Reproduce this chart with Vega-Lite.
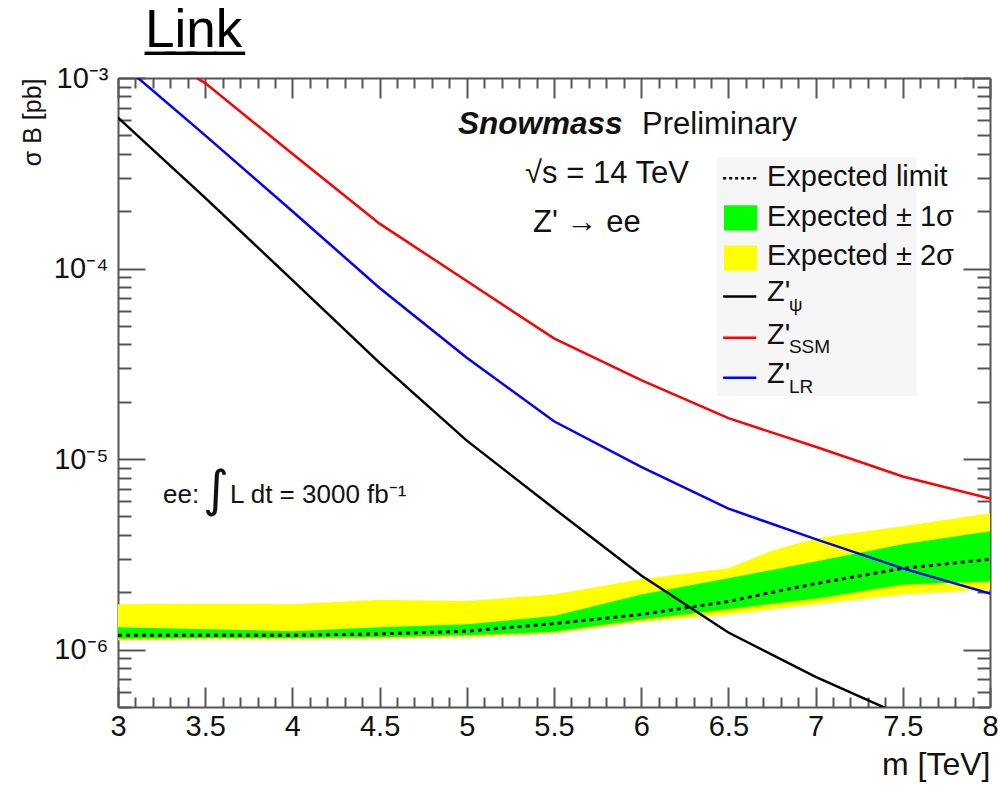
{
  "$schema": "https://vega.github.io/schema/vega-lite/v6.json",
  "width": 872,
  "height": 629,
  "autosize": {"type": "none"},
  "padding": {"left": 118, "top": 78, "right": 8, "bottom": 80},
  "background": "white",
  "config": {"view": {"stroke": null}, "font": "Liberation Sans"},
  "title": {"text": "L̲i̲n̲k̲", "font": "Liberation Sans", "fontSize": 53, "fontWeight": "normal", "color": "#000", "anchor": "start", "frame": "group", "dx": 27, "dy": 66, "offset": 30, "baseline": "alphabetic"},
  "datasets": {
    "bands": [
      {"m": 3.0, "exp": 1.19e-6, "g_lo": 1.14e-6, "g_hi": 1.31e-6, "y_lo": 1.12e-6, "y_hi": 1.73e-6},
      {"m": 3.5, "exp": 1.19e-6, "g_lo": 1.15e-6, "g_hi": 1.28e-6, "y_lo": 1.13e-6, "y_hi": 1.74e-6},
      {"m": 4.0, "exp": 1.19e-6, "g_lo": 1.15e-6, "g_hi": 1.25e-6, "y_lo": 1.13e-6, "y_hi": 1.73e-6},
      {"m": 4.5, "exp": 1.21e-6, "g_lo": 1.16e-6, "g_hi": 1.31e-6, "y_lo": 1.14e-6, "y_hi": 1.83e-6},
      {"m": 5.0, "exp": 1.25e-6, "g_lo": 1.19e-6, "g_hi": 1.36e-6, "y_lo": 1.16e-6, "y_hi": 1.80e-6},
      {"m": 5.5, "exp": 1.37e-6, "g_lo": 1.24e-6, "g_hi": 1.50e-6, "y_lo": 1.22e-6, "y_hi": 1.95e-6},
      {"m": 6.0, "exp": 1.53e-6, "g_lo": 1.44e-6, "g_hi": 1.95e-6, "y_lo": 1.40e-6, "y_hi": 2.34e-6},
      {"m": 6.5, "exp": 1.79e-6, "g_lo": 1.63e-6, "g_hi": 2.37e-6, "y_lo": 1.53e-6, "y_hi": 2.67e-6},
      {"m": 6.75, "exp": 2.0e-6, "g_lo": 1.74e-6, "g_hi": 2.62e-6, "y_lo": 1.63e-6, "y_hi": 3.3e-6},
      {"m": 7.0, "exp": 2.22e-6, "g_lo": 1.85e-6, "g_hi": 2.90e-6, "y_lo": 1.73e-6, "y_hi": 3.84e-6},
      {"m": 7.5, "exp": 2.67e-6, "g_lo": 2.20e-6, "g_hi": 3.57e-6, "y_lo": 1.95e-6, "y_hi": 4.44e-6},
      {"m": 8.0, "exp": 2.98e-6, "g_lo": 2.28e-6, "g_hi": 4.18e-6, "y_lo": 2.07e-6, "y_hi": 5.20e-6}
    ],
    "curves": [
      {"m": 3.0, "s": 6.2e-4, "model": "psi"},
      {"m": 3.5, "s": 2.35e-4, "model": "psi"},
      {"m": 4.0, "s": 8.7e-5, "model": "psi"},
      {"m": 4.5, "s": 3.2e-5, "model": "psi"},
      {"m": 5.0, "s": 1.25e-5, "model": "psi"},
      {"m": 5.5, "s": 5.5e-6, "model": "psi"},
      {"m": 6.0, "s": 2.45e-6, "model": "psi"},
      {"m": 6.5, "s": 1.23e-6, "model": "psi"},
      {"m": 7.0, "s": 7.2e-7, "model": "psi"},
      {"m": 7.5, "s": 4.5e-7, "model": "psi"},
      {"m": 3.4, "s": 1.07e-3, "model": "ssm"},
      {"m": 3.5, "s": 9.4e-4, "model": "ssm"},
      {"m": 4.0, "s": 4.0e-4, "model": "ssm"},
      {"m": 4.5, "s": 1.72e-4, "model": "ssm"},
      {"m": 5.0, "s": 8.6e-5, "model": "ssm"},
      {"m": 5.5, "s": 4.3e-5, "model": "ssm"},
      {"m": 6.0, "s": 2.6e-5, "model": "ssm"},
      {"m": 6.5, "s": 1.64e-5, "model": "ssm"},
      {"m": 7.0, "s": 1.16e-5, "model": "ssm"},
      {"m": 7.5, "s": 8.1e-6, "model": "ssm"},
      {"m": 8.0, "s": 6.2e-6, "model": "ssm"},
      {"m": 3.0, "s": 1.23e-3, "model": "lr"},
      {"m": 3.5, "s": 5.0e-4, "model": "lr"},
      {"m": 4.0, "s": 2.0e-4, "model": "lr"},
      {"m": 4.5, "s": 7.9e-5, "model": "lr"},
      {"m": 5.0, "s": 3.4e-5, "model": "lr"},
      {"m": 5.5, "s": 1.58e-5, "model": "lr"},
      {"m": 6.0, "s": 9.1e-6, "model": "lr"},
      {"m": 6.5, "s": 5.5e-6, "model": "lr"},
      {"m": 7.0, "s": 3.8e-6, "model": "lr"},
      {"m": 7.5, "s": 2.67e-6, "model": "lr"},
      {"m": 8.0, "s": 1.97e-6, "model": "lr"}
    ],
    "legbg": [{"x1": 6.435, "x2": 7.581, "s1": 3.84e-4, "s2": 2.15e-5}],
    "legdot": [{"m": 6.47, "s": 2.98e-4}, {"m": 6.66, "s": 2.98e-4}],
    "leglines": [
      {"m": 6.47, "s": 7.13e-5, "model": "psi"}, {"m": 6.66, "s": 7.13e-5, "model": "psi"},
      {"m": 6.47, "s": 4.33e-5, "model": "ssm"}, {"m": 6.66, "s": 4.33e-5, "model": "ssm"},
      {"m": 6.47, "s": 2.67e-5, "model": "lr"}, {"m": 6.66, "s": 2.67e-5, "model": "lr"}
    ],
    "legbox": [
      {"x1": 6.475, "x2": 6.664, "s1": 2.15e-4, "s2": 1.585e-4, "kind": "g1"},
      {"x1": 6.475, "x2": 6.664, "s1": 1.32e-4, "s2": 9.75e-5, "kind": "g2"}
    ],
    "legtext": [
      {"m": 6.721, "s": 2.70e-4, "t": "Expected limit"},
      {"m": 6.721, "s": 1.68e-4, "t": "Expected ± 1σ"},
      {"m": 6.721, "s": 1.04e-4, "t": "Expected ± 2σ"},
      {"m": 6.721, "s": 6.79e-5, "t": "Z'"},
      {"m": 6.721, "s": 4.03e-5, "t": "Z'"},
      {"m": 6.721, "s": 2.51e-5, "t": "Z'"}
    ],
    "subtext": [
      {"m": 6.847, "s": 6.01e-5, "t": "ψ"},
      {"m": 6.847, "s": 3.61e-5, "t": "SSM"},
      {"m": 6.847, "s": 2.22e-5, "t": "LR"}
    ],
    "snow": [{"m": 4.95, "s": 5.07e-4, "t": "Snowmass"}],
    "ann": [
      {"m": 6.005, "s": 5.07e-4, "t": "Preliminary"},
      {"m": 5.334, "s": 2.80e-4, "t": "√s = 14 TeV"},
      {"m": 5.38, "s": 1.55e-4, "t": "Z' → ee"}
    ],
    "lumi": [
      {"m": 3.258, "s": 5.86e-6, "t": "ee:"},
      {"m": 3.642, "s": 5.86e-6, "t": "L dt = 3000 fb⁻¹"}
    ],
    "integ": [{"m": 3.487, "s": 6.79e-6, "t": "∫"}]
  },
  "layer": [
    {
      "data": {"name": "legbg"},
      "mark": {"type": "rect", "fill": "#f6f6f6"},
      "encoding": {
        "x": {"field": "x1", "type": "quantitative", "scale": {"domain": [3, 8], "nice": false, "zero": false}, "axis": null},
        "x2": {"field": "x2"},
        "y": {"field": "s1", "type": "quantitative", "scale": {"type": "log", "domain": [5e-7, 1e-3], "nice": false}, "axis": null},
        "y2": {"field": "s2"}
      }
    },
    {
      "data": {"name": "bands"},
      "mark": {"type": "area", "color": "#ffff00", "clip": true},
      "encoding": {
        "x": {"field": "m", "type": "quantitative", "scale": {"domain": [3, 8], "nice": false, "zero": false},
          "axis": {"orient": "bottom", "values": [3,3.1,3.2,3.3,3.4,3.5,3.6,3.7,3.8,3.9,4,4.1,4.2,4.3,4.4,4.5,4.6,4.7,4.8,4.9,5,5.1,5.2,5.3,5.4,5.5,5.6,5.7,5.8,5.9,6,6.1,6.2,6.3,6.4,6.5,6.6,6.7,6.8,6.9,7,7.1,7.2,7.3,7.4,7.5,7.6,7.7,7.8,7.9,8],
            "labelExpr": "abs(datum.value*2 - round(datum.value*2)) < 0.001 ? format(datum.value, '.2~f') : ''",
            "tickSize": {"condition": {"test": "abs(datum.value*2 - round(datum.value*2)) < 0.001", "value": -20}, "value": -10},
            "tickColor": "#555", "tickWidth": 2, "domainColor": "#555", "domainWidth": 2, "grid": false,
            "labelFont": "Liberation Sans", "labelFontSize": 29, "labelColor": "#111", "labelPadding": 25, "labelOverlap": false, "labelFlush": false,
            "title": "m [TeV]", "titleAnchor": "end", "titleFont": "Liberation Sans", "titleFontSize": 32, "titleFontWeight": "normal", "titleColor": "#111", "titlePadding": -2}},
        "y": {"field": "y_lo", "type": "quantitative", "scale": {"type": "log", "domain": [5e-7, 1e-3], "nice": false},
          "axis": {"orient": "left", "values": [5e-7,6e-7,7e-7,8e-7,9e-7,1e-6,2e-6,3e-6,4e-6,5e-6,6e-6,7e-6,8e-6,9e-6,1e-5,2e-5,3e-5,4e-5,5e-5,6e-5,7e-5,8e-5,9e-5,1e-4,2e-4,3e-4,4e-4,5e-4,6e-4,7e-4,8e-4,9e-4,1e-3],
            "labelExpr": "abs(log(datum.value)/LN10 - round(log(datum.value)/LN10)) < 0.001 ? '10' + (round(log(datum.value)/LN10) == -3 ? '⁻³' : round(log(datum.value)/LN10) == -4 ? '⁻⁴' : round(log(datum.value)/LN10) == -5 ? '⁻⁵' : '⁻⁶') : ''",
            "tickSize": {"condition": {"test": "abs(log(datum.value)/LN10 - round(log(datum.value)/LN10)) < 0.001", "value": -27}, "value": -13},
            "tickColor": "#555", "tickWidth": 2, "domainColor": "#555", "domainWidth": 2, "grid": false,
            "labelFont": "Liberation Sans", "labelFontSize": 29, "labelColor": "#111", "labelPadding": 37, "labelOverlap": false, "labelFlush": false,
            "title": "σ B [pb]", "titleAnchor": "end", "titleFont": "Liberation Sans", "titleFontSize": 25, "titleFontWeight": "normal", "titleColor": "#111", "titlePadding": 8}},
        "y2": {"field": "y_hi"}
      }
    },
    {
      "data": {"name": "bands"},
      "mark": {"type": "area", "color": "#00ff00", "clip": true},
      "encoding": {
        "x": {"field": "m", "type": "quantitative", "scale": {"domain": [3, 8], "nice": false, "zero": false},
          "axis": {"orient": "top", "values": [3,3.1,3.2,3.3,3.4,3.5,3.6,3.7,3.8,3.9,4,4.1,4.2,4.3,4.4,4.5,4.6,4.7,4.8,4.9,5,5.1,5.2,5.3,5.4,5.5,5.6,5.7,5.8,5.9,6,6.1,6.2,6.3,6.4,6.5,6.6,6.7,6.8,6.9,7,7.1,7.2,7.3,7.4,7.5,7.6,7.7,7.8,7.9,8],
            "labels": false,
            "tickSize": {"condition": {"test": "abs(datum.value*2 - round(datum.value*2)) < 0.001", "value": -20}, "value": -10},
            "tickColor": "#555", "tickWidth": 2, "domainColor": "#555", "domainWidth": 2, "grid": false, "title": null}},
        "y": {"field": "g_lo", "type": "quantitative", "scale": {"type": "log", "domain": [5e-7, 1e-3], "nice": false},
          "axis": {"orient": "right", "values": [5e-7,6e-7,7e-7,8e-7,9e-7,1e-6,2e-6,3e-6,4e-6,5e-6,6e-6,7e-6,8e-6,9e-6,1e-5,2e-5,3e-5,4e-5,5e-5,6e-5,7e-5,8e-5,9e-5,1e-4,2e-4,3e-4,4e-4,5e-4,6e-4,7e-4,8e-4,9e-4,1e-3],
            "labels": false,
            "tickSize": {"condition": {"test": "abs(log(datum.value)/LN10 - round(log(datum.value)/LN10)) < 0.001", "value": -27}, "value": -13},
            "tickColor": "#555", "tickWidth": 2, "domainColor": "#555", "domainWidth": 2, "grid": false, "title": null}},
        "y2": {"field": "g_hi"}
      }
    },
    {
      "data": {"name": "bands"},
      "mark": {"type": "line", "color": "#000000", "strokeWidth": 3, "strokeDash": [4, 4], "clip": true},
      "encoding": {
        "x": {"field": "m", "type": "quantitative", "scale": {"domain": [3, 8], "nice": false, "zero": false}, "axis": null},
        "y": {"field": "exp", "type": "quantitative", "scale": {"type": "log", "domain": [5e-7, 1e-3], "nice": false}, "axis": null}
      }
    },
    {
      "data": {"name": "curves"},
      "mark": {"type": "line", "strokeWidth": 2.5, "clip": true},
      "encoding": {
        "x": {"field": "m", "type": "quantitative", "scale": {"domain": [3, 8], "nice": false, "zero": false}, "axis": null},
        "y": {"field": "s", "type": "quantitative", "scale": {"type": "log", "domain": [5e-7, 1e-3], "nice": false}, "axis": null},
        "color": {"field": "model", "type": "nominal", "scale": {"domain": ["psi", "ssm", "lr"], "range": ["#000000", "#ff0000", "#0000ff"]}, "legend": null}
      }
    },
    {
      "data": {"name": "legdot"},
      "mark": {"type": "line", "color": "#000000", "strokeWidth": 2.5, "strokeDash": [3, 3]},
      "encoding": {
        "x": {"field": "m", "type": "quantitative", "scale": {"domain": [3, 8], "nice": false, "zero": false}, "axis": null},
        "y": {"field": "s", "type": "quantitative", "scale": {"type": "log", "domain": [5e-7, 1e-3], "nice": false}, "axis": null}
      }
    },
    {
      "data": {"name": "leglines"},
      "mark": {"type": "line", "strokeWidth": 2.5},
      "encoding": {
        "x": {"field": "m", "type": "quantitative", "scale": {"domain": [3, 8], "nice": false, "zero": false}, "axis": null},
        "y": {"field": "s", "type": "quantitative", "scale": {"type": "log", "domain": [5e-7, 1e-3], "nice": false}, "axis": null},
        "color": {"field": "model", "type": "nominal", "scale": {"domain": ["psi", "ssm", "lr"], "range": ["#000000", "#ff0000", "#0000ff"]}, "legend": null}
      }
    },
    {
      "data": {"name": "legbox"},
      "mark": {"type": "rect"},
      "encoding": {
        "x": {"field": "x1", "type": "quantitative", "scale": {"domain": [3, 8], "nice": false, "zero": false}, "axis": null},
        "x2": {"field": "x2"},
        "y": {"field": "s1", "type": "quantitative", "scale": {"type": "log", "domain": [5e-7, 1e-3], "nice": false}, "axis": null},
        "y2": {"field": "s2"},
        "fill": {"field": "kind", "type": "nominal", "scale": {"domain": ["g1", "g2"], "range": ["#00ff00", "#ffff00"]}, "legend": null}
      }
    },
    {
      "data": {"name": "legtext"},
      "mark": {"type": "text", "font": "Liberation Sans", "fontSize": 29, "align": "left", "baseline": "alphabetic", "color": "#111"},
      "encoding": {
        "x": {"field": "m", "type": "quantitative", "scale": {"domain": [3, 8], "nice": false, "zero": false}, "axis": null},
        "y": {"field": "s", "type": "quantitative", "scale": {"type": "log", "domain": [5e-7, 1e-3], "nice": false}, "axis": null},
        "text": {"field": "t"}
      }
    },
    {
      "data": {"name": "subtext"},
      "mark": {"type": "text", "font": "Liberation Sans", "fontSize": 19, "align": "left", "baseline": "alphabetic", "color": "#111"},
      "encoding": {
        "x": {"field": "m", "type": "quantitative", "scale": {"domain": [3, 8], "nice": false, "zero": false}, "axis": null},
        "y": {"field": "s", "type": "quantitative", "scale": {"type": "log", "domain": [5e-7, 1e-3], "nice": false}, "axis": null},
        "text": {"field": "t"}
      }
    },
    {
      "data": {"name": "snow"},
      "mark": {"type": "text", "font": "Liberation Sans", "fontSize": 31.5, "fontWeight": "bold", "fontStyle": "italic", "align": "left", "baseline": "alphabetic", "color": "#111"},
      "encoding": {
        "x": {"field": "m", "type": "quantitative", "scale": {"domain": [3, 8], "nice": false, "zero": false}, "axis": null},
        "y": {"field": "s", "type": "quantitative", "scale": {"type": "log", "domain": [5e-7, 1e-3], "nice": false}, "axis": null},
        "text": {"field": "t"}
      }
    },
    {
      "data": {"name": "ann"},
      "mark": {"type": "text", "font": "Liberation Sans", "fontSize": 31, "align": "left", "baseline": "alphabetic", "color": "#111"},
      "encoding": {
        "x": {"field": "m", "type": "quantitative", "scale": {"domain": [3, 8], "nice": false, "zero": false}, "axis": null},
        "y": {"field": "s", "type": "quantitative", "scale": {"type": "log", "domain": [5e-7, 1e-3], "nice": false}, "axis": null},
        "text": {"field": "t"}
      }
    },
    {
      "data": {"name": "lumi"},
      "mark": {"type": "text", "font": "Liberation Sans", "fontSize": 26, "align": "left", "baseline": "alphabetic", "color": "#111"},
      "encoding": {
        "x": {"field": "m", "type": "quantitative", "scale": {"domain": [3, 8], "nice": false, "zero": false}, "axis": null},
        "y": {"field": "s", "type": "quantitative", "scale": {"type": "log", "domain": [5e-7, 1e-3], "nice": false}, "axis": null},
        "text": {"field": "t"}
      }
    },
    {
      "data": {"name": "integ"},
      "mark": {"type": "text", "font": "DejaVu Sans", "fontSize": 50, "align": "left", "baseline": "middle", "color": "#111"},
      "encoding": {
        "x": {"field": "m", "type": "quantitative", "scale": {"domain": [3, 8], "nice": false, "zero": false}, "axis": null},
        "y": {"field": "s", "type": "quantitative", "scale": {"type": "log", "domain": [5e-7, 1e-3], "nice": false}, "axis": null},
        "text": {"field": "t"}
      }
    }
  ],
  "resolve": {"axis": {"x": "independent", "y": "independent"}}
}
